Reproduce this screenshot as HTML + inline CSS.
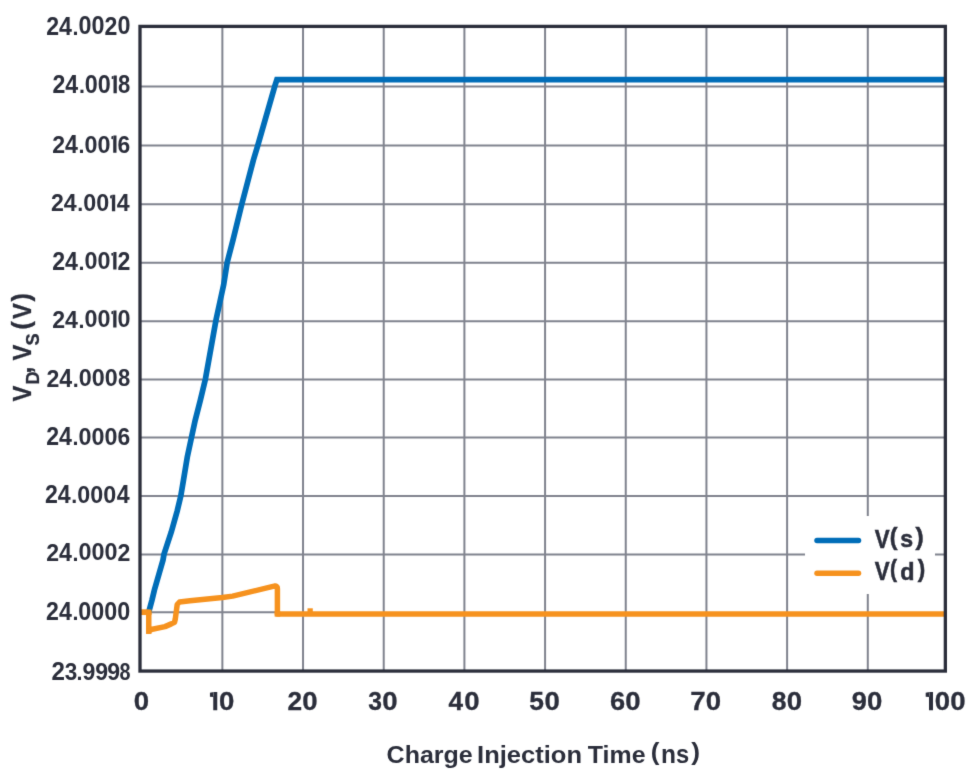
<!DOCTYPE html>
<html><head><meta charset="utf-8"><style>html,body{margin:0;padding:0;background:#fff;width:978px;height:772px;overflow:hidden}svg{display:block}</style></head>
<body><svg width="978" height="772" viewBox="0 0 978 772">
<defs><filter id="soft" x="0" y="0" width="978" height="772" filterUnits="userSpaceOnUse" color-interpolation-filters="sRGB"><feConvolveMatrix order="3" kernelMatrix="0.01134 0.08382 0.01134 0.08382 0.61935 0.08382 0.01134 0.08382 0.01134" edgeMode="duplicate" preserveAlpha="true"/></filter></defs><g filter="url(#soft)">
<rect x="0" y="0" width="978" height="772" fill="#fff"/>
<path d="M222.37 27V671 M303.04 27V671 M383.72 27V671 M464.40 27V671 M545.08 27V671 M625.75 27V671 M706.43 27V671 M787.11 27V671 M867.79 27V671 M140 86.50H945 M140 145.40H945 M140 204.30H945 M140 262.86H945 M140 321.30H945 M140 379.40H945 M140 437.60H945 M140 495.90H945 M140 554.40H945 M140 612.3H277" stroke="#80838e" stroke-width="2" fill="none"/>
<rect x="805" y="516" width="130" height="78" fill="#fff"/>
<polyline points="148.5,613 152,600 154.4,590 163,560 164,554.2 171.3,532 177.2,511 180.8,496 183.5,480 187.3,457 191.5,437.3 195.1,420.7 200.4,400 205.4,379.1 216,320 223.7,284.6 227.2,262.3 233,240 241.8,204.1 253.4,160 257.8,145.4 274.8,86.2 276.9,79.6 946,79.6" stroke="#006db8" stroke-width="5.7" fill="none" stroke-linejoin="miter" stroke-linecap="butt"/>
<polyline points="141,612.3 148.75,612.3 148.75,631.2 152.3,629.2 165,626.6 171.3,623.9 174.5,622.3 175.3,619 177.2,604.5 179.5,602 190,600.8 222.4,597.5 232.6,596.1 272,586.7 274.4,586.1 275.6,586.0 276.6,586.5 277.2,587.4 277.4,588.8 277.4,613.9 946,613.9" stroke="#f6921e" stroke-width="5.5" fill="none" stroke-linejoin="round" stroke-linecap="butt"/>
<rect x="141" y="609.55" width="10.5" height="5.5" fill="#f6921e"/>
<rect x="146.0" y="628.45" width="5.5" height="5.5" fill="#f6921e"/>
<rect x="274.65" y="611.15" width="5.5" height="5.5" fill="#f6921e"/>
<rect x="307.5" y="608.3" width="5.3" height="4" fill="#f6921e"/>
<rect x="140" y="26.4" width="805.35" height="644.65" stroke="#2b2e3b" stroke-width="3.3" fill="none"/>
<line x1="817" y1="540.6" x2="858.5" y2="540.6" stroke="#006db8" stroke-width="5.5" stroke-linecap="round"/>
<line x1="817" y1="573.3" x2="858.5" y2="573.3" stroke="#f6921e" stroke-width="5.5" stroke-linecap="round"/>
<text transform="translate(46.19,34.50) scale(0.9043,1)" font-family="Liberation Sans, sans-serif" font-weight="bold" font-size="25.57" fill="#2b2e3b" stroke="#2b2e3b" stroke-width="0.000">2</text>
<text transform="translate(59.05,34.50) scale(0.8934,1)" font-family="Liberation Sans, sans-serif" font-weight="bold" font-size="25.94" fill="#2b2e3b" stroke="#2b2e3b" stroke-width="0.000">4</text>
<text transform="translate(72.60,34.50) scale(0.9454,1)" font-family="Liberation Sans, sans-serif" font-weight="bold" font-size="22.67" fill="#2b2e3b" stroke="#2b2e3b" stroke-width="0.000">.</text>
<text transform="translate(78.47,34.25) scale(0.9269,1)" font-family="Liberation Sans, sans-serif" font-weight="bold" font-size="25.21" fill="#2b2e3b" stroke="#2b2e3b" stroke-width="0.000">0</text>
<text transform="translate(91.47,34.25) scale(0.9269,1)" font-family="Liberation Sans, sans-serif" font-weight="bold" font-size="25.21" fill="#2b2e3b" stroke="#2b2e3b" stroke-width="0.000">0</text>
<text transform="translate(104.59,34.50) scale(0.9043,1)" font-family="Liberation Sans, sans-serif" font-weight="bold" font-size="25.57" fill="#2b2e3b" stroke="#2b2e3b" stroke-width="0.000">2</text>
<text transform="translate(117.47,34.25) scale(0.9269,1)" font-family="Liberation Sans, sans-serif" font-weight="bold" font-size="25.21" fill="#2b2e3b" stroke="#2b2e3b" stroke-width="0.000">0</text>
<text transform="translate(52.49,93.20) scale(0.9094,1)" font-family="Liberation Sans, sans-serif" font-weight="bold" font-size="25.43" fill="#2b2e3b" stroke="#2b2e3b" stroke-width="0.000">2</text>
<text transform="translate(65.35,93.20) scale(0.8985,1)" font-family="Liberation Sans, sans-serif" font-weight="bold" font-size="25.80" fill="#2b2e3b" stroke="#2b2e3b" stroke-width="0.000">4</text>
<text transform="translate(78.90,93.20) scale(0.9454,1)" font-family="Liberation Sans, sans-serif" font-weight="bold" font-size="22.67" fill="#2b2e3b" stroke="#2b2e3b" stroke-width="0.000">.</text>
<text transform="translate(84.77,92.95) scale(0.9321,1)" font-family="Liberation Sans, sans-serif" font-weight="bold" font-size="25.07" fill="#2b2e3b" stroke="#2b2e3b" stroke-width="0.000">0</text>
<text transform="translate(97.77,92.95) scale(0.9321,1)" font-family="Liberation Sans, sans-serif" font-weight="bold" font-size="25.07" fill="#2b2e3b" stroke="#2b2e3b" stroke-width="0.000">0</text>
<path d="M113.50 75.40H116.80V93.20H113.50ZM113.80 75.40L111.70 76.40L111.70 78.90L113.80 79.10Z" fill="#2b2e3b"/>
<text transform="translate(118.04,92.95) scale(0.8783,1)" font-family="Liberation Sans, sans-serif" font-weight="bold" font-size="25.07" fill="#2b2e3b" stroke="#2b2e3b" stroke-width="0.000">8</text>
<text transform="translate(52.19,152.80) scale(0.9411,1)" font-family="Liberation Sans, sans-serif" font-weight="bold" font-size="24.57" fill="#2b2e3b" stroke="#2b2e3b" stroke-width="0.000">2</text>
<text transform="translate(65.05,152.80) scale(0.9298,1)" font-family="Liberation Sans, sans-serif" font-weight="bold" font-size="24.93" fill="#2b2e3b" stroke="#2b2e3b" stroke-width="0.000">4</text>
<text transform="translate(78.60,152.80) scale(0.9454,1)" font-family="Liberation Sans, sans-serif" font-weight="bold" font-size="22.67" fill="#2b2e3b" stroke="#2b2e3b" stroke-width="0.000">.</text>
<text transform="translate(84.47,152.56) scale(0.9646,1)" font-family="Liberation Sans, sans-serif" font-weight="bold" font-size="24.23" fill="#2b2e3b" stroke="#2b2e3b" stroke-width="0.000">0</text>
<text transform="translate(97.47,152.56) scale(0.9646,1)" font-family="Liberation Sans, sans-serif" font-weight="bold" font-size="24.23" fill="#2b2e3b" stroke="#2b2e3b" stroke-width="0.000">0</text>
<path d="M113.20 135.60H116.50V152.80H113.20ZM113.50 135.60L111.40 136.60L111.40 139.10L113.50 139.30Z" fill="#2b2e3b"/>
<text transform="translate(117.60,152.56) scale(0.9447,1)" font-family="Liberation Sans, sans-serif" font-weight="bold" font-size="24.23" fill="#2b2e3b" stroke="#2b2e3b" stroke-width="0.000">6</text>
<text transform="translate(50.89,211.30) scale(0.9752,1)" font-family="Liberation Sans, sans-serif" font-weight="bold" font-size="23.71" fill="#2b2e3b" stroke="#2b2e3b" stroke-width="0.000">2</text>
<text transform="translate(63.75,211.30) scale(0.9634,1)" font-family="Liberation Sans, sans-serif" font-weight="bold" font-size="24.06" fill="#2b2e3b" stroke="#2b2e3b" stroke-width="0.000">4</text>
<text transform="translate(77.30,211.30) scale(0.9454,1)" font-family="Liberation Sans, sans-serif" font-weight="bold" font-size="22.67" fill="#2b2e3b" stroke="#2b2e3b" stroke-width="0.000">.</text>
<text transform="translate(83.17,211.07) scale(0.9995,1)" font-family="Liberation Sans, sans-serif" font-weight="bold" font-size="23.38" fill="#2b2e3b" stroke="#2b2e3b" stroke-width="0.000">0</text>
<text transform="translate(96.17,211.07) scale(0.9995,1)" font-family="Liberation Sans, sans-serif" font-weight="bold" font-size="23.38" fill="#2b2e3b" stroke="#2b2e3b" stroke-width="0.000">0</text>
<path d="M111.90 194.70H115.20V211.30H111.90ZM112.20 194.70L110.10 195.70L110.10 198.20L112.20 198.40Z" fill="#2b2e3b"/>
<text transform="translate(116.75,211.30) scale(0.9634,1)" font-family="Liberation Sans, sans-serif" font-weight="bold" font-size="24.06" fill="#2b2e3b" stroke="#2b2e3b" stroke-width="0.000">4</text>
<text transform="translate(52.19,269.60) scale(0.9197,1)" font-family="Liberation Sans, sans-serif" font-weight="bold" font-size="25.14" fill="#2b2e3b" stroke="#2b2e3b" stroke-width="0.000">2</text>
<text transform="translate(65.05,269.60) scale(0.9087,1)" font-family="Liberation Sans, sans-serif" font-weight="bold" font-size="25.51" fill="#2b2e3b" stroke="#2b2e3b" stroke-width="0.000">4</text>
<text transform="translate(78.60,269.60) scale(0.9454,1)" font-family="Liberation Sans, sans-serif" font-weight="bold" font-size="22.67" fill="#2b2e3b" stroke="#2b2e3b" stroke-width="0.000">.</text>
<text transform="translate(84.47,269.35) scale(0.9427,1)" font-family="Liberation Sans, sans-serif" font-weight="bold" font-size="24.79" fill="#2b2e3b" stroke="#2b2e3b" stroke-width="0.000">0</text>
<text transform="translate(97.47,269.35) scale(0.9427,1)" font-family="Liberation Sans, sans-serif" font-weight="bold" font-size="24.79" fill="#2b2e3b" stroke="#2b2e3b" stroke-width="0.000">0</text>
<path d="M113.20 252.00H116.50V269.60H113.20ZM113.50 252.00L111.40 253.00L111.40 255.50L113.50 255.70Z" fill="#2b2e3b"/>
<text transform="translate(117.59,269.60) scale(0.9197,1)" font-family="Liberation Sans, sans-serif" font-weight="bold" font-size="25.14" fill="#2b2e3b" stroke="#2b2e3b" stroke-width="0.000">2</text>
<text transform="translate(52.19,327.50) scale(0.9522,1)" font-family="Liberation Sans, sans-serif" font-weight="bold" font-size="24.29" fill="#2b2e3b" stroke="#2b2e3b" stroke-width="0.000">2</text>
<text transform="translate(65.05,327.50) scale(0.9407,1)" font-family="Liberation Sans, sans-serif" font-weight="bold" font-size="24.64" fill="#2b2e3b" stroke="#2b2e3b" stroke-width="0.000">4</text>
<text transform="translate(78.60,327.50) scale(0.9454,1)" font-family="Liberation Sans, sans-serif" font-weight="bold" font-size="22.67" fill="#2b2e3b" stroke="#2b2e3b" stroke-width="0.000">.</text>
<text transform="translate(84.47,327.26) scale(0.9760,1)" font-family="Liberation Sans, sans-serif" font-weight="bold" font-size="23.94" fill="#2b2e3b" stroke="#2b2e3b" stroke-width="0.000">0</text>
<text transform="translate(97.47,327.26) scale(0.9760,1)" font-family="Liberation Sans, sans-serif" font-weight="bold" font-size="23.94" fill="#2b2e3b" stroke="#2b2e3b" stroke-width="0.000">0</text>
<path d="M113.20 310.50H116.50V327.50H113.20ZM113.50 310.50L111.40 311.50L111.40 314.00L113.50 314.20Z" fill="#2b2e3b"/>
<text transform="translate(117.47,327.26) scale(0.9760,1)" font-family="Liberation Sans, sans-serif" font-weight="bold" font-size="23.94" fill="#2b2e3b" stroke="#2b2e3b" stroke-width="0.000">0</text>
<text transform="translate(46.39,386.70) scale(0.9411,1)" font-family="Liberation Sans, sans-serif" font-weight="bold" font-size="24.57" fill="#2b2e3b" stroke="#2b2e3b" stroke-width="0.000">2</text>
<text transform="translate(59.25,386.70) scale(0.9298,1)" font-family="Liberation Sans, sans-serif" font-weight="bold" font-size="24.93" fill="#2b2e3b" stroke="#2b2e3b" stroke-width="0.000">4</text>
<text transform="translate(72.80,386.70) scale(0.9454,1)" font-family="Liberation Sans, sans-serif" font-weight="bold" font-size="22.67" fill="#2b2e3b" stroke="#2b2e3b" stroke-width="0.000">.</text>
<text transform="translate(78.67,386.46) scale(0.9646,1)" font-family="Liberation Sans, sans-serif" font-weight="bold" font-size="24.23" fill="#2b2e3b" stroke="#2b2e3b" stroke-width="0.000">0</text>
<text transform="translate(91.67,386.46) scale(0.9646,1)" font-family="Liberation Sans, sans-serif" font-weight="bold" font-size="24.23" fill="#2b2e3b" stroke="#2b2e3b" stroke-width="0.000">0</text>
<text transform="translate(104.67,386.46) scale(0.9646,1)" font-family="Liberation Sans, sans-serif" font-weight="bold" font-size="24.23" fill="#2b2e3b" stroke="#2b2e3b" stroke-width="0.000">0</text>
<text transform="translate(117.94,386.46) scale(0.9090,1)" font-family="Liberation Sans, sans-serif" font-weight="bold" font-size="24.23" fill="#2b2e3b" stroke="#2b2e3b" stroke-width="0.000">8</text>
<text transform="translate(46.19,444.90) scale(0.9197,1)" font-family="Liberation Sans, sans-serif" font-weight="bold" font-size="25.14" fill="#2b2e3b" stroke="#2b2e3b" stroke-width="0.000">2</text>
<text transform="translate(59.05,444.90) scale(0.9087,1)" font-family="Liberation Sans, sans-serif" font-weight="bold" font-size="25.51" fill="#2b2e3b" stroke="#2b2e3b" stroke-width="0.000">4</text>
<text transform="translate(72.60,444.90) scale(0.9454,1)" font-family="Liberation Sans, sans-serif" font-weight="bold" font-size="22.67" fill="#2b2e3b" stroke="#2b2e3b" stroke-width="0.000">.</text>
<text transform="translate(78.47,444.65) scale(0.9427,1)" font-family="Liberation Sans, sans-serif" font-weight="bold" font-size="24.79" fill="#2b2e3b" stroke="#2b2e3b" stroke-width="0.000">0</text>
<text transform="translate(91.47,444.65) scale(0.9427,1)" font-family="Liberation Sans, sans-serif" font-weight="bold" font-size="24.79" fill="#2b2e3b" stroke="#2b2e3b" stroke-width="0.000">0</text>
<text transform="translate(104.47,444.65) scale(0.9427,1)" font-family="Liberation Sans, sans-serif" font-weight="bold" font-size="24.79" fill="#2b2e3b" stroke="#2b2e3b" stroke-width="0.000">0</text>
<text transform="translate(117.60,444.65) scale(0.9233,1)" font-family="Liberation Sans, sans-serif" font-weight="bold" font-size="24.79" fill="#2b2e3b" stroke="#2b2e3b" stroke-width="0.000">6</text>
<text transform="translate(44.89,502.90) scale(0.9197,1)" font-family="Liberation Sans, sans-serif" font-weight="bold" font-size="25.14" fill="#2b2e3b" stroke="#2b2e3b" stroke-width="0.000">2</text>
<text transform="translate(57.75,502.90) scale(0.9087,1)" font-family="Liberation Sans, sans-serif" font-weight="bold" font-size="25.51" fill="#2b2e3b" stroke="#2b2e3b" stroke-width="0.000">4</text>
<text transform="translate(71.30,502.90) scale(0.9454,1)" font-family="Liberation Sans, sans-serif" font-weight="bold" font-size="22.67" fill="#2b2e3b" stroke="#2b2e3b" stroke-width="0.000">.</text>
<text transform="translate(77.17,502.65) scale(0.9427,1)" font-family="Liberation Sans, sans-serif" font-weight="bold" font-size="24.79" fill="#2b2e3b" stroke="#2b2e3b" stroke-width="0.000">0</text>
<text transform="translate(90.17,502.65) scale(0.9427,1)" font-family="Liberation Sans, sans-serif" font-weight="bold" font-size="24.79" fill="#2b2e3b" stroke="#2b2e3b" stroke-width="0.000">0</text>
<text transform="translate(103.17,502.65) scale(0.9427,1)" font-family="Liberation Sans, sans-serif" font-weight="bold" font-size="24.79" fill="#2b2e3b" stroke="#2b2e3b" stroke-width="0.000">0</text>
<text transform="translate(116.75,502.90) scale(0.9087,1)" font-family="Liberation Sans, sans-serif" font-weight="bold" font-size="25.51" fill="#2b2e3b" stroke="#2b2e3b" stroke-width="0.000">4</text>
<text transform="translate(46.19,560.50) scale(0.9411,1)" font-family="Liberation Sans, sans-serif" font-weight="bold" font-size="24.57" fill="#2b2e3b" stroke="#2b2e3b" stroke-width="0.000">2</text>
<text transform="translate(59.05,560.50) scale(0.9298,1)" font-family="Liberation Sans, sans-serif" font-weight="bold" font-size="24.93" fill="#2b2e3b" stroke="#2b2e3b" stroke-width="0.000">4</text>
<text transform="translate(72.60,560.50) scale(0.9454,1)" font-family="Liberation Sans, sans-serif" font-weight="bold" font-size="22.67" fill="#2b2e3b" stroke="#2b2e3b" stroke-width="0.000">.</text>
<text transform="translate(78.47,560.26) scale(0.9646,1)" font-family="Liberation Sans, sans-serif" font-weight="bold" font-size="24.23" fill="#2b2e3b" stroke="#2b2e3b" stroke-width="0.000">0</text>
<text transform="translate(91.47,560.26) scale(0.9646,1)" font-family="Liberation Sans, sans-serif" font-weight="bold" font-size="24.23" fill="#2b2e3b" stroke="#2b2e3b" stroke-width="0.000">0</text>
<text transform="translate(104.47,560.26) scale(0.9646,1)" font-family="Liberation Sans, sans-serif" font-weight="bold" font-size="24.23" fill="#2b2e3b" stroke="#2b2e3b" stroke-width="0.000">0</text>
<text transform="translate(117.59,560.50) scale(0.9411,1)" font-family="Liberation Sans, sans-serif" font-weight="bold" font-size="24.57" fill="#2b2e3b" stroke="#2b2e3b" stroke-width="0.000">2</text>
<text transform="translate(46.09,620.00) scale(0.9145,1)" font-family="Liberation Sans, sans-serif" font-weight="bold" font-size="25.29" fill="#2b2e3b" stroke="#2b2e3b" stroke-width="0.000">2</text>
<text transform="translate(58.95,620.00) scale(0.9035,1)" font-family="Liberation Sans, sans-serif" font-weight="bold" font-size="25.65" fill="#2b2e3b" stroke="#2b2e3b" stroke-width="0.000">4</text>
<text transform="translate(72.50,620.00) scale(0.9454,1)" font-family="Liberation Sans, sans-serif" font-weight="bold" font-size="22.67" fill="#2b2e3b" stroke="#2b2e3b" stroke-width="0.000">.</text>
<text transform="translate(78.37,619.75) scale(0.9374,1)" font-family="Liberation Sans, sans-serif" font-weight="bold" font-size="24.93" fill="#2b2e3b" stroke="#2b2e3b" stroke-width="0.000">0</text>
<text transform="translate(91.37,619.75) scale(0.9374,1)" font-family="Liberation Sans, sans-serif" font-weight="bold" font-size="24.93" fill="#2b2e3b" stroke="#2b2e3b" stroke-width="0.000">0</text>
<text transform="translate(104.37,619.75) scale(0.9374,1)" font-family="Liberation Sans, sans-serif" font-weight="bold" font-size="24.93" fill="#2b2e3b" stroke="#2b2e3b" stroke-width="0.000">0</text>
<text transform="translate(117.37,619.75) scale(0.9374,1)" font-family="Liberation Sans, sans-serif" font-weight="bold" font-size="24.93" fill="#2b2e3b" stroke="#2b2e3b" stroke-width="0.000">0</text>
<text transform="translate(51.45,680.00) scale(0.9667,1)" font-family="Liberation Sans, sans-serif" font-weight="bold" font-size="25.00" fill="#2b2e3b" stroke="#2b2e3b" stroke-width="0.000">2</text>
<text transform="translate(64.64,679.75) scale(0.9139,1)" font-family="Liberation Sans, sans-serif" font-weight="bold" font-size="24.65" fill="#2b2e3b" stroke="#2b2e3b" stroke-width="0.000">3</text>
<text transform="translate(76.60,680.00) scale(0.9454,1)" font-family="Liberation Sans, sans-serif" font-weight="bold" font-size="22.67" fill="#2b2e3b" stroke="#2b2e3b" stroke-width="0.000">.</text>
<text transform="translate(82.39,679.75) scale(0.9369,1)" font-family="Liberation Sans, sans-serif" font-weight="bold" font-size="24.65" fill="#2b2e3b" stroke="#2b2e3b" stroke-width="0.000">9</text>
<text transform="translate(95.29,679.75) scale(0.9369,1)" font-family="Liberation Sans, sans-serif" font-weight="bold" font-size="24.65" fill="#2b2e3b" stroke="#2b2e3b" stroke-width="0.000">9</text>
<text transform="translate(107.29,679.75) scale(0.9369,1)" font-family="Liberation Sans, sans-serif" font-weight="bold" font-size="24.65" fill="#2b2e3b" stroke="#2b2e3b" stroke-width="0.000">9</text>
<text transform="translate(119.61,679.75) scale(0.8032,1)" font-family="Liberation Sans, sans-serif" font-weight="bold" font-size="24.65" fill="#2b2e3b" stroke="#2b2e3b" stroke-width="0.000">8</text>
<text transform="translate(133.80,709.80) scale(1.1001,1)" font-family="Liberation Sans, sans-serif" font-weight="bold" font-size="25.07" fill="#2b2e3b" stroke="#2b2e3b" stroke-width="0.300">0</text>
<path d="M213.25 692.10H217.25V710.20H213.25ZM213.55 692.10L209.95 692.80L209.95 696.70L213.55 696.50Z" fill="#2b2e3b"/>
<text transform="translate(219.10,709.80) scale(1.1001,1)" font-family="Liberation Sans, sans-serif" font-weight="bold" font-size="25.07" fill="#2b2e3b" stroke="#2b2e3b" stroke-width="0.300">0</text>
<text transform="translate(287.48,710.05) scale(1.0323,1)" font-family="Liberation Sans, sans-serif" font-weight="bold" font-size="25.43" fill="#2b2e3b" stroke="#2b2e3b" stroke-width="0.300">2</text>
<text transform="translate(302.20,709.80) scale(1.1001,1)" font-family="Liberation Sans, sans-serif" font-weight="bold" font-size="25.07" fill="#2b2e3b" stroke="#2b2e3b" stroke-width="0.300">0</text>
<text transform="translate(368.33,709.80) scale(0.9831,1)" font-family="Liberation Sans, sans-serif" font-weight="bold" font-size="25.07" fill="#2b2e3b" stroke="#2b2e3b" stroke-width="0.300">3</text>
<text transform="translate(382.35,709.80) scale(1.1001,1)" font-family="Liberation Sans, sans-serif" font-weight="bold" font-size="25.07" fill="#2b2e3b" stroke="#2b2e3b" stroke-width="0.300">0</text>
<text transform="translate(448.56,710.05) scale(1.0144,1)" font-family="Liberation Sans, sans-serif" font-weight="bold" font-size="25.80" fill="#2b2e3b" stroke="#2b2e3b" stroke-width="0.300">4</text>
<text transform="translate(464.15,709.80) scale(1.1001,1)" font-family="Liberation Sans, sans-serif" font-weight="bold" font-size="25.07" fill="#2b2e3b" stroke="#2b2e3b" stroke-width="0.300">0</text>
<text transform="translate(529.21,709.80) scale(1.0382,1)" font-family="Liberation Sans, sans-serif" font-weight="bold" font-size="25.43" fill="#2b2e3b" stroke="#2b2e3b" stroke-width="0.300">5</text>
<text transform="translate(544.40,709.80) scale(1.1001,1)" font-family="Liberation Sans, sans-serif" font-weight="bold" font-size="25.07" fill="#2b2e3b" stroke="#2b2e3b" stroke-width="0.300">0</text>
<text transform="translate(609.90,709.80) scale(1.0856,1)" font-family="Liberation Sans, sans-serif" font-weight="bold" font-size="25.07" fill="#2b2e3b" stroke="#2b2e3b" stroke-width="0.300">6</text>
<text transform="translate(625.25,709.80) scale(1.1001,1)" font-family="Liberation Sans, sans-serif" font-weight="bold" font-size="25.07" fill="#2b2e3b" stroke="#2b2e3b" stroke-width="0.300">0</text>
<text transform="translate(690.30,710.05) scale(1.0754,1)" font-family="Liberation Sans, sans-serif" font-weight="bold" font-size="25.80" fill="#2b2e3b" stroke="#2b2e3b" stroke-width="0.300">7</text>
<text transform="translate(705.65,709.80) scale(1.1001,1)" font-family="Liberation Sans, sans-serif" font-weight="bold" font-size="25.07" fill="#2b2e3b" stroke="#2b2e3b" stroke-width="0.300">0</text>
<text transform="translate(771.71,709.80) scale(1.0556,1)" font-family="Liberation Sans, sans-serif" font-weight="bold" font-size="25.07" fill="#2b2e3b" stroke="#2b2e3b" stroke-width="0.300">8</text>
<text transform="translate(786.80,709.80) scale(1.1001,1)" font-family="Liberation Sans, sans-serif" font-weight="bold" font-size="25.07" fill="#2b2e3b" stroke="#2b2e3b" stroke-width="0.300">0</text>
<text transform="translate(851.75,709.80) scale(1.0856,1)" font-family="Liberation Sans, sans-serif" font-weight="bold" font-size="25.07" fill="#2b2e3b" stroke="#2b2e3b" stroke-width="0.300">9</text>
<text transform="translate(867.10,709.80) scale(1.1001,1)" font-family="Liberation Sans, sans-serif" font-weight="bold" font-size="25.07" fill="#2b2e3b" stroke="#2b2e3b" stroke-width="0.300">0</text>
<path d="M929.00 692.10H933.00V710.20H929.00ZM929.30 692.10L925.70 692.80L925.70 696.70L929.30 696.50Z" fill="#2b2e3b"/>
<text transform="translate(934.85,709.80) scale(1.1001,1)" font-family="Liberation Sans, sans-serif" font-weight="bold" font-size="25.07" fill="#2b2e3b" stroke="#2b2e3b" stroke-width="0.300">0</text>
<text transform="translate(950.25,709.80) scale(1.1001,1)" font-family="Liberation Sans, sans-serif" font-weight="bold" font-size="25.07" fill="#2b2e3b" stroke="#2b2e3b" stroke-width="0.300">0</text>
<text transform="translate(386.60,762.60) scale(1.0169,1)" font-family="Liberation Sans, sans-serif" font-weight="bold" font-size="24.60" fill="#2b2e3b" stroke="#2b2e3b" stroke-width="0.000">Charge</text>
<text transform="translate(477.04,762.60) scale(1.0384,1)" font-family="Liberation Sans, sans-serif" font-weight="bold" font-size="24.60" fill="#2b2e3b" stroke="#2b2e3b" stroke-width="0.000">Injection</text>
<text transform="translate(587.85,762.60) scale(1.0118,1)" font-family="Liberation Sans, sans-serif" font-weight="bold" font-size="24.60" fill="#2b2e3b" stroke="#2b2e3b" stroke-width="0.000">Time</text>
<text transform="translate(650.80,759.74) scale(1.1030,1)" font-family="Liberation Sans, sans-serif" font-weight="bold" font-size="23.64" fill="#2b2e3b" stroke="#2b2e3b" stroke-width="0.000">(</text>
<text transform="translate(660.91,762.80) scale(0.9601,1)" font-family="Liberation Sans, sans-serif" font-weight="bold" font-size="25.56" fill="#2b2e3b" stroke="#2b2e3b" stroke-width="0.000">n</text>
<text transform="translate(676.07,762.74) scale(0.9199,1)" font-family="Liberation Sans, sans-serif" font-weight="bold" font-size="25.82" fill="#2b2e3b" stroke="#2b2e3b" stroke-width="0.000">s</text>
<text transform="translate(691.17,759.74) scale(1.1181,1)" font-family="Liberation Sans, sans-serif" font-weight="bold" font-size="23.64" fill="#2b2e3b" stroke="#2b2e3b" stroke-width="0.000">)</text>
<text transform="translate(874.63,547.55) scale(0.8746,1)" font-family="Liberation Sans, sans-serif" font-weight="bold" font-size="25.51" fill="#2b2e3b" stroke="#2b2e3b" stroke-width="0.500">V</text>
<text transform="translate(889.69,545.03) scale(0.9911,1)" font-family="Liberation Sans, sans-serif" font-weight="bold" font-size="23.42" fill="#2b2e3b" stroke="#2b2e3b" stroke-width="0.500">(</text>
<text transform="translate(900.14,547.31) scale(0.9784,1)" font-family="Liberation Sans, sans-serif" font-weight="bold" font-size="23.64" fill="#2b2e3b" stroke="#2b2e3b" stroke-width="0.500">s</text>
<text transform="translate(915.53,545.03) scale(1.0521,1)" font-family="Liberation Sans, sans-serif" font-weight="bold" font-size="23.42" fill="#2b2e3b" stroke="#2b2e3b" stroke-width="0.500">)</text>
<text transform="translate(874.63,579.95) scale(0.8746,1)" font-family="Liberation Sans, sans-serif" font-weight="bold" font-size="25.51" fill="#2b2e3b" stroke="#2b2e3b" stroke-width="0.500">V</text>
<text transform="translate(890.10,576.90) scale(0.9121,1)" font-family="Liberation Sans, sans-serif" font-weight="bold" font-size="23.10" fill="#2b2e3b" stroke="#2b2e3b" stroke-width="0.500">(</text>
<text transform="translate(900.32,579.71) scale(0.9927,1)" font-family="Liberation Sans, sans-serif" font-weight="bold" font-size="23.54" fill="#2b2e3b" stroke="#2b2e3b" stroke-width="0.500">d</text>
<text transform="translate(917.64,576.90) scale(0.9740,1)" font-family="Liberation Sans, sans-serif" font-weight="bold" font-size="23.10" fill="#2b2e3b" stroke="#2b2e3b" stroke-width="0.500">)</text>
<g transform="translate(31,401.4) rotate(-90)" font-family="Liberation Sans, sans-serif" font-weight="bold" fill="#2b2e3b"><text transform="translate(-0.20,0) scale(0.95,1)" font-size="25" stroke="#2b2e3b" stroke-width="0.300">V</text><text transform="translate(17.00,7.5) scale(1.0,1)" font-size="18.2" stroke="#2b2e3b" stroke-width="0.300">D</text><text transform="translate(28.00,0) scale(1.0,1)" font-size="25" stroke="#2b2e3b" stroke-width="0.300">,</text><text transform="translate(40.80,0) scale(0.95,1)" font-size="25" stroke="#2b2e3b" stroke-width="0.300">V</text><text transform="translate(55.80,7.5) scale(1.0,1)" font-size="18.2" stroke="#2b2e3b" stroke-width="0.300">S</text><text transform="translate(71.90,-1.5) scale(1.0,1)" font-size="25" stroke="#2b2e3b" stroke-width="0.300">(</text><text transform="translate(82.50,0) scale(0.95,1)" font-size="25" stroke="#2b2e3b" stroke-width="0.300">V</text><text transform="translate(100.00,-1.5) scale(1.0,1)" font-size="25" stroke="#2b2e3b" stroke-width="0.300">)</text></g>
</g>
</svg></body></html>
